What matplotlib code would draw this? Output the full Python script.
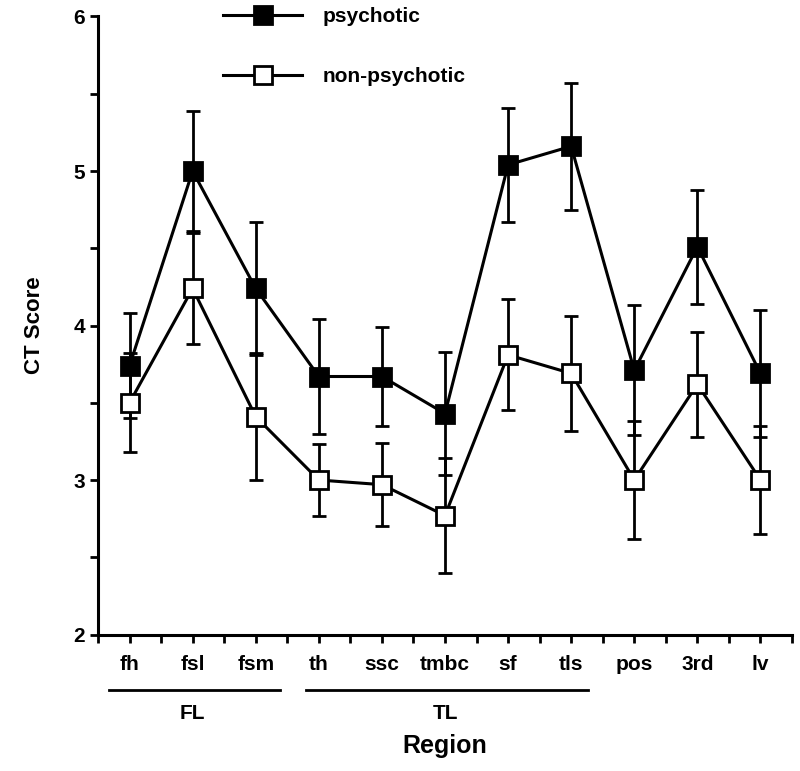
import numpy as np
import matplotlib.pyplot as plt
import matplotlib.transforms as mtransforms
from matplotlib.lines import Line2D
from matplotlib.ticker import MultipleLocator

regions = ['fh', 'fsl', 'fsm', 'th', 'ssc', 'tmbc', 'sf', 'tls', 'pos', '3rd', 'lv']
psychotic = [3.74, 5.00, 4.24, 3.67, 3.67, 3.43, 5.04, 5.16, 3.71, 4.51, 3.69]
psychotic_err = [0.34, 0.39, 0.43, 0.37, 0.32, 0.40, 0.37, 0.41, 0.42, 0.37, 0.41]
non_psychotic = [3.50, 4.24, 3.41, 3.00, 2.97, 2.77, 3.81, 3.69, 3.00, 3.62, 3.00]
non_psychotic_err = [0.32, 0.36, 0.41, 0.23, 0.27, 0.37, 0.36, 0.37, 0.38, 0.34, 0.35]
groups = [('FL', -0.32, 2.38, 1.0), ('TL', 2.80, 7.27, 5.0)]

plt.rcParams['font.family'] = ['Liberation Sans', 'DejaVu Sans']
plt.rcParams['font.weight'] = 'bold'

fig = plt.figure(figsize=(8, 7.71), dpi=100)
ax = fig.add_axes([0.1225, 0.177, 0.8675, 0.8016])
x = np.arange(len(regions))

style = dict(color='black', lw=2.2, elinewidth=2.0, capsize=5, capthick=2.0,
             markersize=12.5, markeredgewidth=2.0, markeredgecolor='black')
ax.errorbar(x, psychotic, yerr=psychotic_err, marker='s', markerfacecolor='black', zorder=3, **style)
ax.errorbar(x, non_psychotic, yerr=non_psychotic_err, marker='s', markerfacecolor='white', zorder=3, **style)

ax.set_xlim(-0.5, 10.5)
ax.set_ylim(2, 6)
ax.set_xticks(x)
ax.set_xticklabels(regions, fontsize=15, fontweight='bold')
ax.xaxis.set_minor_locator(MultipleLocator(0.5))
ax.yaxis.set_major_locator(MultipleLocator(1))
ax.yaxis.set_minor_locator(MultipleLocator(0.5))
ax.tick_params(axis='both', which='both', direction='out', width=2, length=6)
ax.tick_params(axis='y', labelsize=15)
ax.tick_params(axis='x', which='major', pad=9)
for lab in ax.get_yticklabels():
    lab.set_fontweight('bold')
for s in ['top', 'right']:
    ax.spines[s].set_visible(False)
for s in ['left', 'bottom']:
    ax.spines[s].set_linewidth(2.2)

ax.set_ylabel('CT Score', fontsize=16, fontweight='bold', labelpad=20)
ax.set_xlabel('Region', fontsize=18, fontweight='bold', labelpad=43)

# group brackets under the tick labels
trans = mtransforms.blended_transform_factory(ax.transData, ax.transAxes)
for name, x0, x1, xc in groups:
    ax.plot([x0, x1], [-0.089, -0.089], color='black', lw=2, transform=trans, clip_on=False)
    ax.text(xc, -0.112, name, transform=trans, ha='center', va='top',
            fontsize=15, fontweight='bold')

handles = [
    Line2D([], [], color='black', lw=2.2, marker='s', markersize=12.5,
           markerfacecolor='black', markeredgecolor='black', markeredgewidth=2.0),
    Line2D([], [], color='black', lw=2.2, marker='s', markersize=12.5,
           markerfacecolor='white', markeredgecolor='black', markeredgewidth=2.0),
]
leg = ax.legend(handles, ['psychotic', 'non-psychotic'], loc='upper left',
                bbox_to_anchor=(0.153, 1.045), frameon=False, fontsize=15,
                handlelength=3.8, handletextpad=1.0, labelspacing=1.95, numpoints=1)
for t in leg.get_texts():
    t.set_fontweight('bold')

fig.savefig('out.png', dpi=100)
